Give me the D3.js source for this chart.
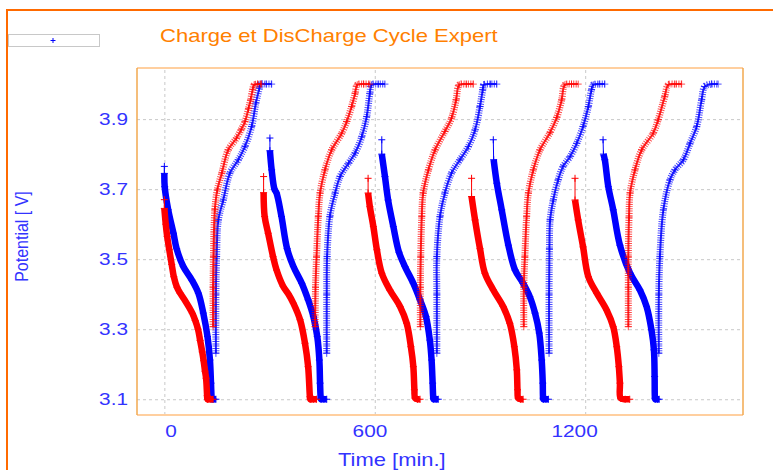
<!DOCTYPE html>
<html>
<head>
<meta charset="utf-8">
<script src="https://cdn.jsdelivr.net/npm/d3@7"></script>
<style>
  body { margin: 0; background: #fff; }
  svg { display: block; font-family: "Liberation Sans", Arial, sans-serif; }
</style>
</head>
<body>
<div id="chart"></div>
<script>
// ticks
const xTicks = [0, 600, 1200];
const yTicks = [3.1, 3.3, 3.5, 3.7, 3.9];

// [time (min), potential (V)], one array per cycle
const redDischarge = [
  [[0,3.67],[0,3.645],[4,3.60],[8,3.565],[14,3.527],[21,3.485],[27,3.45],[36,3.42],[45,3.403],[57,3.385],[69,3.365],[80,3.345],[88,3.325],[96,3.30],[102,3.268],[108,3.235],[112,3.21],[116,3.18],[119,3.16],[122,3.11],[123,3.10],[131,3.10],[139,3.10]],
  [[283,3.736],[283,3.69],[286,3.622],[296,3.574],[310,3.507],[320,3.469],[339,3.422],[354,3.40],[368,3.374],[387,3.327],[401,3.26],[410,3.193],[415,3.107],[416,3.10],[425,3.10],[434,3.10]],
  [[581,3.731],[581,3.689],[586,3.65],[596,3.593],[606,3.527],[620,3.46],[643,3.412],[672,3.365],[691,3.317],[703,3.25],[710,3.193],[713,3.127],[715,3.103],[722,3.10],[729,3.10]],
  [[876,3.731],[876,3.679],[886,3.612],[900,3.53],[914,3.46],[938,3.412],[966,3.365],[985,3.317],[998,3.25],[1005,3.184],[1007,3.127],[1009,3.103],[1016,3.10],[1023,3.10]],
  [[1171,3.731],[1171,3.669],[1180,3.612],[1194,3.535],[1209,3.45],[1233,3.403],[1261,3.355],[1280,3.307],[1290,3.25],[1296,3.193],[1299,3.146],[1301,3.103],[1314,3.10],[1327,3.10]]
];
const redCharge = [
  [[139,3.307],[139,3.42],[140,3.507],[144,3.641],[151,3.698],[164,3.746],[182,3.812],[206,3.846],[219,3.87],[230,3.893],[240,3.93],[246,3.955],[252,3.985],[256,3.998],[266,4.0],[277,4.0]],
  [[430,3.307],[431,3.42],[434,3.507],[439,3.622],[444,3.689],[458,3.755],[477,3.812],[506,3.86],[520,3.893],[534,3.936],[544,3.974],[550,3.998],[568,4.0],[586,4.0]],
  [[730,3.307],[730,3.42],[731,3.507],[734,3.622],[738,3.689],[753,3.755],[772,3.812],[800,3.865],[819,3.903],[832,3.955],[841,3.998],[861,4.0],[881,4.0]],
  [[1025,3.307],[1025,3.42],[1028,3.507],[1033,3.622],[1038,3.689],[1052,3.755],[1071,3.812],[1100,3.862],[1119,3.905],[1133,3.955],[1142,3.998],[1161,4.0],[1180,4.0]],
  [[1323,3.307],[1323,3.42],[1323,3.507],[1325,3.62],[1328,3.689],[1342,3.755],[1361,3.812],[1394,3.86],[1408,3.898],[1427,3.965],[1437,3.998],[1456,4.0],[1475,4.0]]
];
const blueDischarge = [
  [[0,3.765],[0,3.745],[1,3.707],[11,3.641],[26,3.574],[35,3.53],[54,3.479],[78,3.441],[97,3.403],[111,3.346],[123,3.279],[130,3.212],[133,3.146],[135,3.103],[136,3.10],[141,3.10],[147,3.10]],
  [[301,3.846],[301,3.81],[306,3.755],[314,3.70],[320,3.689],[334,3.622],[350,3.53],[368,3.479],[392,3.431],[410,3.384],[425,3.336],[436,3.279],[442,3.212],[444,3.146],[446,3.103],[447,3.10],[455,3.10],[463,3.10]],
  [[620,3.841],[620,3.80],[629,3.736],[638,3.669],[653,3.593],[669,3.52],[686,3.479],[710,3.431],[729,3.384],[746,3.336],[757,3.269],[762,3.212],[765,3.146],[767,3.103],[768,3.10],[775,3.10],[781,3.10]],
  [[938,3.841],[939,3.784],[948,3.717],[962,3.641],[981,3.54],[1000,3.469],[1023,3.431],[1042,3.393],[1057,3.346],[1069,3.289],[1076,3.212],[1079,3.146],[1080,3.103],[1081,3.10],[1088,3.10],[1095,3.10]],
  [[1251,3.841],[1252,3.80],[1256,3.784],[1266,3.707],[1280,3.641],[1299,3.54],[1328,3.46],[1356,3.412],[1375,3.365],[1389,3.298],[1396,3.241],[1398,3.165],[1399,3.103],[1400,3.10],[1406,3.10],[1411,3.10]]
];
const blueCharge = [
  [[147,3.231],[147,3.40],[149,3.507],[154,3.612],[168,3.669],[187,3.746],[211,3.784],[230,3.822],[249,3.879],[261,3.946],[271,3.989],[273,4.0],[290,4.0],[306,4.0]],
  [[463,3.231],[463,3.40],[464,3.507],[472,3.622],[487,3.689],[501,3.736],[525,3.774],[544,3.803],[563,3.85],[577,3.907],[586,3.974],[591,3.998],[610,4.0],[629,4.0]],
  [[777,3.231],[777,3.40],[777,3.507],[786,3.622],[800,3.689],[819,3.746],[843,3.784],[867,3.822],[886,3.869],[900,3.936],[908,3.984],[911,3.998],[930,4.0],[948,4.0]],
  [[1097,3.231],[1097,3.40],[1098,3.53],[1100,3.612],[1109,3.669],[1123,3.727],[1137,3.765],[1157,3.793],[1176,3.831],[1194,3.879],[1209,3.936],[1218,3.984],[1223,3.998],[1240,4.0],[1256,4.0]],
  [[1410,3.231],[1410,3.40],[1413,3.507],[1423,3.641],[1442,3.727],[1456,3.755],[1480,3.784],[1499,3.831],[1518,3.879],[1532,3.955],[1541,3.993],[1560,4.0],[1579,4.0]]
];

const width = 773, height = 470;
const plot = {left: 137, right: 743, top: 68, bottom: 415};
const blueText = "#3333ff";
const sx = 1.3;   // glyphs in the picture are wider than Arial

const svg = d3.select("#chart").append("svg")
    .attr("width", width)
    .attr("height", height);

// outer orange frame (only top and left edges are in view)
svg.append("rect")
    .attr("x", 7).attr("y", 10)
    .attr("width", 820).attr("height", 520)
    .attr("fill", "none")
    .attr("stroke", "#ff6a00")
    .attr("stroke-width", 2);

// legend box
svg.append("rect")
    .attr("x", 8.5).attr("y", 34.5)
    .attr("width", 91).attr("height", 12)
    .attr("fill", "#fff")
    .attr("stroke", "#c8c8c8");
svg.append("path")
    .attr("d", "M50.5,40.5H55.5M53,38V43")
    .attr("stroke", "#0000ff")
    .attr("stroke-width", 1);

// title
svg.append("text")
    .attr("transform", "translate(160,42) scale(1.19,1)")
    .attr("font-size", "18.5px")
    .attr("fill", "#ff8000")
    .text("Charge et DisCharge Cycle Expert");

let x = d3.scaleLinear().domain([-78, 1650]).range([plot.left, plot.right]);
let y = d3.scaleLinear().domain([3.055, 4.046]).range([plot.bottom, plot.top]);

// grid + axes
let xAxis = svg.append("g")
    .attr("transform", "translate(0," + plot.bottom + ")")
    .call(d3.axisBottom(x).tickValues(xTicks).tickSize(-(plot.bottom - plot.top)).tickFormat(d3.format("d")));
let yAxis = svg.append("g")
    .attr("transform", "translate(" + plot.left + ",0)")
    .call(d3.axisLeft(y).tickValues(yTicks).tickSize(-(plot.right - plot.left)).tickFormat(d3.format(".1f")));

[xAxis, yAxis].forEach(a => {
    a.select(".domain").remove();
    a.selectAll(".tick line")
        .attr("stroke", "#c8c8c8")
        .attr("stroke-dasharray", "3,3");
    a.selectAll(".tick text")
        .attr("fill", blueText)
        .attr("font-size", "16px")
        .attr("font-family", "Liberation Sans, Arial, sans-serif");
});
xAxis.selectAll(".tick text")
    .attr("text-anchor", "end")
    .attr("x", 12 / sx)
    .attr("y", 22)
    .attr("dy", 0)
    .attr("transform", "scale(" + sx + ",1)");
yAxis.selectAll(".tick text")
    .attr("x", -9 / sx)
    .attr("dy", "0.35em")
    .attr("transform", "scale(" + sx + ",1)");

// plot frame
svg.append("line").attr("x1", plot.left).attr("x2", plot.right).attr("y1", plot.top).attr("y2", plot.top)
    .attr("stroke", "#ffcf9f").attr("stroke-width", 2);
svg.append("line").attr("x1", plot.left).attr("x2", plot.right).attr("y1", plot.bottom).attr("y2", plot.bottom)
    .attr("stroke", "#ffcf9f").attr("stroke-width", 2);
svg.append("line").attr("x1", plot.left).attr("x2", plot.left).attr("y1", plot.top).attr("y2", plot.bottom)
    .attr("stroke", "#f2a94f").attr("stroke-width", 1.5);
svg.append("line").attr("x1", plot.right).attr("x2", plot.right).attr("y1", plot.top).attr("y2", plot.bottom)
    .attr("stroke", "#f2a94f").attr("stroke-width", 1.5);

// axis titles
svg.append("text")
    .attr("transform", "translate(338,465.5) scale(1.22,1)")
    .attr("font-size", "18px")
    .attr("fill", blueText)
    .text("Time [min.]");
svg.append("text")
    .attr("transform", "translate(28,236.5) scale(1.2,1) rotate(-90)")
    .attr("text-anchor", "middle")
    .attr("font-size", "16px")
    .attr("fill", blueText)
    .text("Potential [ V]");

// series
let g = svg.append("g");
let smooth = d3.line()
    .x(d => x(d[0]))
    .y(d => y(d[1]))
    .curve(d3.curveCatmullRom.alpha(0.5));
let straight = d3.line().x(d => x(d[0])).y(d => y(d[1]));
const plus = "M-3.5,0H3.5M0,-3.5V3.5";

let markers = (seg, color, op) => {
    g.append("g").selectAll("path")
        .data(seg)
        .enter().append("path")
            .attr("d", plus)
            .attr("transform", d => "translate(" + x(d[0]) + "," + y(d[1]) + ")")
            .attr("stroke", color)
            .attr("stroke-width", 1)
            .attr("opacity", op);
};

let drawDischarge = (segs, color) => {
    segs.forEach(seg => {
        g.append("path").datum(seg.slice(0, 2))
            .attr("d", straight)
            .attr("fill", "none")
            .attr("stroke", color)
            .attr("stroke-width", 1);
        g.append("path").datum(seg.slice(1))
            .attr("d", smooth)
            .attr("fill", "none")
            .attr("stroke", color)
            .attr("stroke-width", 6.5)
            .attr("stroke-linejoin", "round");
        markers(seg, color, 1);
    });
};

let drawCharge = (segs, color) => {
    segs.forEach(seg => {
        g.append("path").datum(seg)
            .attr("d", smooth)
            .attr("fill", "none")
            .attr("stroke", color)
            .attr("stroke-width", 7)
            .attr("stroke-dasharray", "1,1.3")
            .attr("opacity", 0.7);
        g.append("path").datum(seg)
            .attr("d", smooth)
            .attr("fill", "none")
            .attr("stroke", color)
            .attr("stroke-width", 2)
            .attr("opacity", 0.85);
        markers(seg, color, 0.7);
    });
};

drawDischarge(blueDischarge, "#0000ff");
drawCharge(blueCharge, "#0000ff");
drawDischarge(redDischarge, "#ff0000");
drawCharge(redCharge, "#ff0000");
</script>
</body>
</html>
